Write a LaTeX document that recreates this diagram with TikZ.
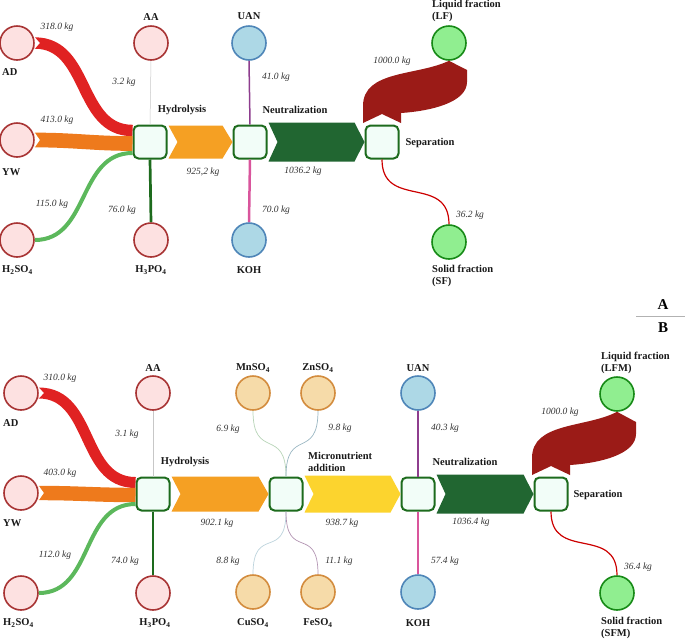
\documentclass[tikz,border=0pt]{standalone}
\usepackage{fontspec}
\setmainfont{Liberation Serif}
\usepackage{tikz}
\usetikzlibrary{calc}

\definecolor{feedfill}{HTML}{FDE1E1}
\definecolor{feeddraw}{HTML}{A83434}
\definecolor{basefill}{HTML}{ADD8E6}
\definecolor{basedraw}{HTML}{4F86B8}
\definecolor{microfill}{HTML}{F6DBA9}
\definecolor{microdraw}{HTML}{D38C3E}
\definecolor{prodfill}{HTML}{90EE90}
\definecolor{proddraw}{HTML}{178A17}
\definecolor{unitfill}{HTML}{F2FDF8}
\definecolor{unitdraw}{HTML}{1D6B1D}
\definecolor{bandred}{HTML}{E02222}
\definecolor{bandorange}{HTML}{EE7A1C}
\definecolor{bandgreen}{HTML}{5CB85C}
\definecolor{chevorange}{HTML}{F5A023}
\definecolor{chevyellow}{HTML}{FCD42E}
\definecolor{chevgreen}{HTML}{216631}
\definecolor{sepred}{HTML}{9B1B17}
\definecolor{uanline}{HTML}{8E3D8E}
\definecolor{kohline}{HTML}{D9559C}
\definecolor{wtgray}{HTML}{333333}

\tikzstyle{feed} = [circle, minimum size=34pt, inner sep=0pt, line width=1.6pt, draw=feeddraw, fill=feedfill]
\tikzstyle{basenode} = [circle, minimum size=34pt, inner sep=0pt, line width=1.6pt, draw=basedraw, fill=basefill]
\tikzstyle{micro} = [circle, minimum size=34pt, inner sep=0pt, line width=1.6pt, draw=microdraw, fill=microfill]
\tikzstyle{product} = [circle, minimum size=34pt, inner sep=0pt, line width=1.6pt, draw=proddraw, fill=prodfill]
\tikzstyle{unit} = [rectangle, rounded corners=5pt, minimum size=33pt, inner sep=0pt, line width=2pt, draw=unitdraw, fill=unitfill]
\tikzstyle{lbl} = [font=\fontsize{10.5}{12.5}\selectfont\bfseries, text=black!90, inner sep=0pt]
\tikzstyle{wt} = [font=\fontsize{9.5}{11}\selectfont\itshape, text=wtgray, inner sep=0pt]
\tikzstyle{band} = [line cap=butt]

% chevron flow between two units: from, to, half height, colour
\newcommand{\chev}[4]{%
  \fill[#4] ($(#1.east)+(1,-#3)$) -- ($(#2.west)+(-10,-#3)$) -- (#2.west)
    -- ($(#2.west)+(-10,#3)$) -- ($(#1.east)+(1,#3)$) -- ($(#1.east)+(10,0)$) -- cycle;}
% notch at the start of a band
\newcommand{\notch}[2]{%
  \fill[white] ($(#1.east)+(0,-#2)$) -- ($(#1.east)+(5,0)$) -- ($(#1.east)+(0,#2)$) -- cycle;}
% separation flow up to the liquid fraction
\newcommand{\sepflow}[2]{%
  \fill[sepred] ($(#1)+(-19,-19)$) -- ($(#1)+(0,-28)$) -- ($(#1)+(19,-19)$) -- ($(#1)+(19,-29)$)
    .. controls ($(#1)+(50,-31)$) and ($(#1)+(85,-40)$) .. ($(#1)+(85,-60)$) -- ($(#1)+(85,-72)$)
    -- (#2.south) .. controls ($(#1)+(35,-66)$) and ($(#1)+(-19,-72)$) .. ($(#1)+(-19,-36)$) -- cycle;}

\begin{document}
\begin{tikzpicture}[x=1pt,y=-1pt]
\useasboundingbox (0,0) rectangle (685,641);

%%% A
\node(hydA)[unit] at (150,142) {};
\node(neuA)[unit] at (250,142) {};
\node(sepA)[unit] at (382,142) {};
\node(adA)[feed] at (17,43) {};
\node(ywA)[feed] at (17,140) {};
\node(hsA)[feed] at (17,240) {};
\node(aaA)[feed] at (151,43) {};
\node(hpA)[feed] at (151,240) {};
\node(uanA)[basenode] at (249,43) {};
\node(kohA)[basenode] at (249,240) {};
\node(lfA)[product] at (449,43) {};
\node(sfA)[product] at (449,242) {};

\draw [band, bandred, line width=11.4pt] (adA.east) .. controls +(55,0) and +(-55,0) .. ([yshift=11.5pt]hydA.west);
\draw [band, bandorange, line width=14.7pt] (ywA.east) .. controls +(40,0) and +(-40,0) .. ([yshift=-1.5pt]hydA.west);
\draw [band, bandgreen, line width=4pt] (hsA.east) .. controls +(55,0) and +(-55,0) .. ([yshift=-11pt]hydA.west);
\notch{adA}{5.7}
\notch{ywA}{7.3}
\draw [black!22, line width=0.5pt] (aaA.south) -- (hydA.north);
\draw [unitdraw, line width=2.7pt] (hydA.south) -- (hpA.north);
\draw [uanline, line width=1.5pt] (uanA.south) -- (neuA.north);
\draw [kohline, line width=2.5pt] (neuA.south) -- (kohA.north);
\draw [red!80!black, line width=1.2pt] (sepA.south) .. controls +(0,50) and +(0,-50) .. (sfA.north);
\chev{hydA}{neuA}{16.5}{chevorange}
\chev{neuA}{sepA}{19.5}{chevgreen}
\sepflow{sepA}{lfA}

\node(adAt)[lbl, anchor=west] at (2,72) {AD};
\node(ywAt)[lbl, anchor=west] at (2,172) {YW};
\node(hsAt)[lbl, anchor=west] at (2,270) {H\textsubscript{2}SO\textsubscript{4}};
\node(aaAt)[lbl] at (151,17) {AA};
\node(hpAt)[lbl] at (151,270) {H\textsubscript{3}PO\textsubscript{4}};
\node(uanAt)[lbl] at (249,16) {UAN};
\node(kohAt)[lbl] at (249,270) {KOH};
\node(hydAt)[lbl] at (182,110) {Hydrolysis};
\node(neuAt)[lbl] at (295,110) {Neutralization};
\node(sepAt)[lbl] at (430,143) {Separation};
\node(lfAt)[lbl, anchor=west, align=left] at (432,11) {Liquid fraction\\(LF)};
\node(sfAt)[lbl, anchor=west, align=left] at (432,276) {Solid fraction\\(SF)};
\node(w1A)[wt] at (57,27) {318.0 kg};
\node(w2A)[wt] at (57,120) {413.0 kg};
\node(w3A)[wt] at (52,204) {115.0 kg};
\node(w4A)[wt] at (124,82) {3.2 kg};
\node(w5A)[wt] at (122,210) {76.0 kg};
\node(w6A)[wt] at (203,172) {925,2 kg};
\node(w7A)[wt] at (276,77) {41.0 kg};
\node(w8A)[wt] at (276,210) {70.0 kg};
\node(w9A)[wt] at (303,171) {1036.2 kg};
\node(w10A)[wt] at (392,61) {1000.0 kg};
\node(w11A)[wt] at (470,215) {36.2 kg};

%%% divider
\node(tagA)[font=\fontsize{15}{15}\selectfont\bfseries, inner sep=0pt] at (663,305) {A};
\node(tagB)[font=\fontsize{15}{15}\selectfont\bfseries, inner sep=0pt] at (663,328) {B};
\draw [black!30, line width=0.6pt] (636,316) -- (685,316);

%%% B
\node(hydB)[unit] at (153,494) {};
\node(micB)[unit] at (286,494) {};
\node(neuB)[unit] at (418,494) {};
\node(sepB)[unit] at (551,494) {};
\node(adB)[feed] at (21,393) {};
\node(ywB)[feed] at (21,493) {};
\node(hsB)[feed] at (21,593) {};
\node(aaB)[feed] at (153,393) {};
\node(hpB)[feed] at (153,593) {};
\node(mnB)[micro] at (253,393) {};
\node(znB)[micro] at (318,393) {};
\node(cuB)[micro] at (253,592) {};
\node(feB)[micro] at (318,592) {};
\node(uanB)[basenode] at (418,393) {};
\node(kohB)[basenode] at (418,592) {};
\node(lfB)[product] at (617,394) {};
\node(sfB)[product] at (617,593) {};

\draw [band, bandred, line width=11pt] (adB.east) .. controls +(55,0) and +(-55,0) .. ([yshift=11.5pt]hydB.west);
\draw [band, bandorange, line width=14.4pt] (ywB.east) .. controls +(40,0) and +(-40,0) .. ([yshift=-1pt]hydB.west);
\draw [band, bandgreen, line width=4pt] (hsB.east) .. controls +(55,0) and +(-55,0) .. ([yshift=-10pt]hydB.west);
\notch{adB}{5.5}
\notch{ywB}{7.2}
\draw [black!22, line width=0.5pt] (aaB.south) -- (hydB.north);
\draw [unitdraw, line width=2.6pt] (hydB.south) -- (hpB.north);
\draw [green!25!gray!45, line width=0.7pt] (mnB.south) .. controls +(0,50) and +(0,-50) .. (micB.north);
\draw [cyan!30!gray!75, line width=0.7pt] (znB.south) .. controls +(0,50) and +(0,-50) .. (micB.north);
\draw [cyan!35!gray!45, line width=0.7pt] (micB.south) .. controls +(0,50) and +(0,-50) .. (cuB.north);
\draw [violet!40!gray!60, line width=0.7pt] (micB.south) .. controls +(0,50) and +(0,-50) .. (feB.north);
\draw [uanline, line width=1.5pt] (uanB.south) -- (neuB.north);
\draw [kohline, line width=2.2pt] (neuB.south) -- (kohB.north);
\draw [red!80!black, line width=1.2pt] (sepB.south) .. controls +(0,50) and +(0,-50) .. (sfB.north);
\chev{hydB}{micB}{17.5}{chevorange}
\chev{micB}{neuB}{18.5}{chevyellow}
\chev{neuB}{sepB}{19.5}{chevgreen}
\sepflow{sepB}{lfB}

\node(adBt)[lbl, anchor=west] at (3,423) {AD};
\node(ywBt)[lbl, anchor=west] at (3,523) {YW};
\node(hsBt)[lbl, anchor=west] at (3,623) {H\textsubscript{2}SO\textsubscript{4}};
\node(aaBt)[lbl] at (153,368) {AA};
\node(hpBt)[lbl] at (155,623) {H\textsubscript{3}PO\textsubscript{4}};
\node(mnBt)[lbl] at (253,368) {MnSO\textsubscript{4}};
\node(znBt)[lbl] at (318,368) {ZnSO\textsubscript{4}};
\node(cuBt)[lbl] at (253,623) {CuSO\textsubscript{4}};
\node(feBt)[lbl] at (318,623) {FeSO\textsubscript{4}};
\node(uanBt)[lbl] at (418,368) {UAN};
\node(kohBt)[lbl] at (418,623) {KOH};
\node(hydBt)[lbl] at (185,462) {Hydrolysis};
\node(micBt)[lbl, anchor=west, align=left] at (308,462) {Micronutrient\\addition};
\node(neuBt)[lbl] at (465,462) {Neutralization};
\node(sepBt)[lbl] at (598,495) {Separation};
\node(lfBt)[lbl, anchor=west, align=left] at (601,363) {Liquid fraction\\(LFM)};
\node(sfBt)[lbl, anchor=west, align=left] at (601,628) {Solid fraction\\(SFM)};
\node(w1B)[wt] at (60,378) {310.0 kg};
\node(w2B)[wt] at (60,473) {403.0 kg};
\node(w3B)[wt] at (55,555) {112.0 kg};
\node(w4B)[wt] at (127,434) {3.1 kg};
\node(w5B)[wt] at (125,561) {74.0 kg};
\node(w6B)[wt] at (217,523) {902.1 kg};
\node(w7B)[wt] at (228,429) {6.9 kg};
\node(w8B)[wt] at (340,428) {9.8 kg};
\node(w9B)[wt] at (228,561) {8.8 kg};
\node(w10B)[wt] at (339,561) {11.1 kg};
\node(w11B)[wt] at (342,523) {938.7 kg};
\node(w12B)[wt] at (445,428) {40.3 kg};
\node(w13B)[wt] at (445,561) {57.4 kg};
\node(w14B)[wt] at (471,522) {1036.4 kg};
\node(w15B)[wt] at (560,412) {1000.0 kg};
\node(w16B)[wt] at (638,567) {36.4 kg};

\end{tikzpicture}
\end{document}
